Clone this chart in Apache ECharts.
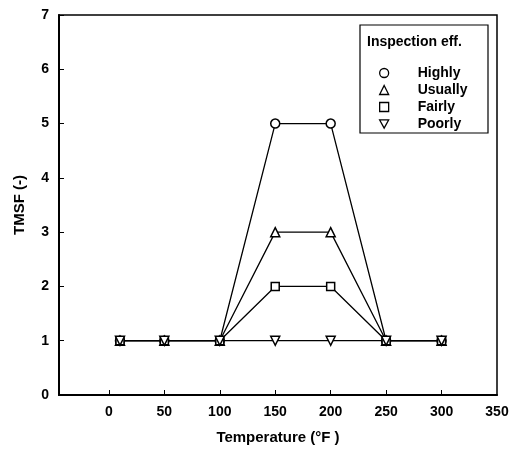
<!DOCTYPE html>
<html>
<head>
<meta charset="utf-8">
<script src="https://cdn.jsdelivr.net/npm/echarts@6/dist/echarts.min.js"></script>
<style>html,body{margin:0;padding:0;background:#fff;}#c{width:522px;height:450px;}</style>
</head>
<body>
<div id="c"></div>
<script>
var temps = [10, 50, 100, 150, 200, 250, 300];
var highly = [1, 1, 1, 5, 5, 1, 1];
var usually = [1, 1, 1, 3, 3, 1, 1];
var fairly = [1, 1, 1, 2, 2, 1, 1];
var poorly = [1, 1, 1, 1, 1, 1, 1];
var seriesNames = ['Highly', 'Usually', 'Fairly', 'Poorly'];
var xTicks = [0, 50, 100, 150, 200, 250, 300, 350];
var yTicks = [0, 1, 2, 3, 4, 5, 6, 7];

function pairs(ys) { return temps.map(function (t, i) { return [t, ys[i]]; }); }
var font = 'Liberation Sans, Arial, sans-serif';
var downTri = 'path://M0,0 L10,0 L5,9 Z';

function mk(name, ys, sym, rot, size) {
  return {
    name: name, type: 'line', data: pairs(ys),
    symbol: sym, symbolSize: size, symbolRotate: rot || 0,
    showSymbol: true,
    lineStyle: { color: '#000', width: 1.3 },
    itemStyle: { color: '#fff', borderColor: '#000', borderWidth: 1.5 },
    emphasis: { disabled: true },
    z: 3
  };
}

var chart = echarts.init(document.getElementById('c'));
chart.setOption({
  animation: false,
  backgroundColor: '#fff',
  grid: { left: 59, right: 25, top: 15, bottom: 55, show: true, borderColor: '#000', borderWidth: 1.5, backgroundColor: 'transparent' },
  xAxis: {
    type: 'value', min: -45, max: 350, interval: 50,
    name: 'Temperature (°F )', nameLocation: 'middle', nameGap: 35,
    nameTextStyle: { color: '#000', fontSize: 15, fontFamily: font, fontWeight: 'bold' },
    axisLine: { show: true, onZero: false, lineStyle: { color: '#000', width: 2 } },
    axisTick: { show: true, inside: true, length: 5, lineStyle: { color: '#000', width: 1 },
      customValues: xTicks.slice(0, 7) },
    axisLabel: { color: '#000', fontSize: 14, fontFamily: font, fontWeight: 'bold', margin: 10,
      customValues: xTicks },
    splitLine: { show: false }
  },
  yAxis: {
    type: 'value', min: 0, max: 7, interval: 1,
    name: 'TMSF (-)', nameLocation: 'middle', nameGap: 32,
    nameTextStyle: { color: '#000', fontSize: 15, fontFamily: font, fontWeight: 'bold' },
    axisLine: { show: true, onZero: false, lineStyle: { color: '#000', width: 2 } },
    axisTick: { show: true, inside: true, length: 5, lineStyle: { color: '#000', width: 1 } },
    axisLabel: { color: '#000', fontSize: 14, fontFamily: font, fontWeight: 'bold', margin: 10 },
    splitLine: { show: false }
  },
  legend: {
    orient: 'vertical', left: 374, top: 61, itemGap: 3, itemWidth: 9, itemHeight: 9,
    textStyle: { color: '#000', fontSize: 14, fontFamily: font, fontWeight: 'bold', padding: [0, 0, 0, 24] },
    itemStyle: { color: '#fff', borderColor: '#000', borderWidth: 1.3 },
    lineStyle: { width: 0 },
    selectedMode: false,
    data: [
      { name: 'Highly', icon: 'circle' },
      { name: 'Usually', icon: 'triangle' },
      { name: 'Fairly', icon: 'rect' },
      { name: 'Poorly', icon: downTri }
    ]
  },
  graphic: [
    { type: 'rect', shape: { x: 360, y: 25, width: 128, height: 108 }, style: { fill: 'transparent', stroke: '#000', lineWidth: 1.2 }, z: 10 },
    { type: 'text', x: 367, y: 35, style: { text: 'Inspection eff.', fill: '#000', fontSize: 14, fontFamily: font, fontWeight: 'bold' }, z: 10 }
  ],
  series: [
    mk('Highly', highly, 'circle', 0, 9),
    mk('Usually', usually, 'triangle', 0, 9),
    mk('Fairly', fairly, 'rect', 0, 8),
    mk('Poorly', poorly, 'triangle', 180, 9)
  ]
});
</script>
</body>
</html>
